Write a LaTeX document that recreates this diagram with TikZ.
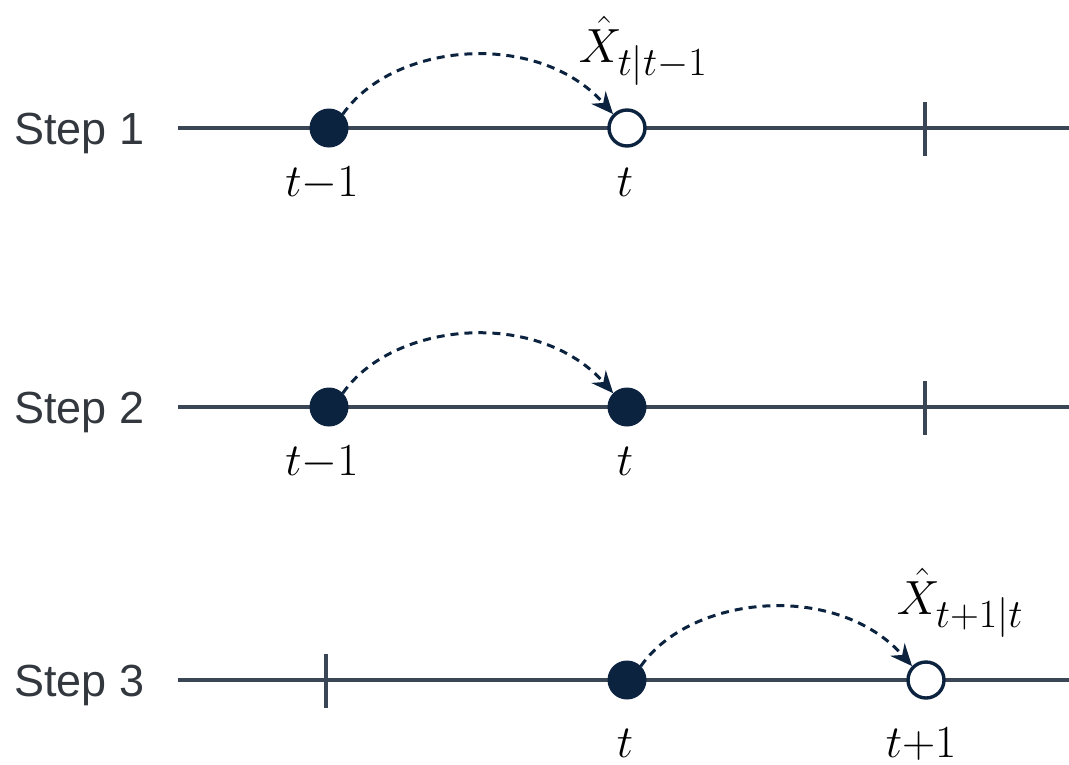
\RequirePackage{fix-cm}
\documentclass[tikz,border=0pt]{standalone}
\usepackage{fontspec}
\newfontfamily\stepfont{Liberation Sans}
\DeclareMathSizes{46}{46}{34}{26}
\DeclareMathSizes{48}{48}{40}{30}
\usetikzlibrary{arrows.meta}
\definecolor{axis}{HTML}{3A4656}
\definecolor{navy}{HTML}{0C2340}
\definecolor{labgray}{HTML}{33383F}
\tikzset{
  axisline/.style={draw=axis, line width=3.2pt},
  tickmark/.style={draw=axis, line width=3.2pt},
  filledpt/.style={circle, fill=navy, draw=navy, line width=1pt, minimum size=38pt, inner sep=0pt},
  openpt/.style={circle, fill=white, draw=navy, line width=3.4pt, minimum size=36pt, inner sep=0pt},
  steplabel/.style={anchor=base west, text=labgray, font=\stepfont\fontsize{45}{48}\selectfont, inner sep=0pt},
  mathlabel/.style={anchor=base, text=black, font=\fontsize{46}{50}\selectfont, inner sep=0pt},
  hatlabel/.style={anchor=base, text=black, font=\fontsize{48}{52}\selectfont, inner sep=0pt},
  dasharrow/.style={draw=navy, line width=3pt, dash pattern=on 8pt off 6pt, -{Stealth[length=22pt,width=19pt]}},
}
\begin{document}
\begin{tikzpicture}[x=1pt,y=-1pt]
\useasboundingbox (0,0) rectangle (1069,764);
% Step 1
\node[steplabel] (s1) at (14,144) {Step 1};
\coordinate (l1a) at (178,128);
\coordinate (l1b) at (1069,128);
\draw[axisline] (l1a) -- (l1b);
\coordinate (k1a) at (925,102);
\coordinate (k1b) at (925,156);
\draw[tickmark] (k1a) -- (k1b);
\node[filledpt] (a1) at (329,128) {};
\node[openpt] (b1) at (627,128) {};
\node[mathlabel] (ta1) at (322,196) {$t{-}1$};
\node[mathlabel] (tb1) at (625,196) {$t$};
\node[hatlabel] (x1) at (643,62) {$\hat{X}_{t|t-1}$};
\draw[dasharrow] (a1.north east) .. controls +(50,-72) and +(-75,-85) .. (b1.north west);
% Step 2
\node[steplabel] (s2) at (14,423) {Step 2};
\coordinate (l2a) at (178,407);
\coordinate (l2b) at (1069,407);
\draw[axisline] (l2a) -- (l2b);
\coordinate (k2a) at (925,381);
\coordinate (k2b) at (925,435);
\draw[tickmark] (k2a) -- (k2b);
\node[filledpt] (a2) at (329,407) {};
\node[filledpt] (b2) at (627,407) {};
\node[mathlabel] (ta2) at (322,475) {$t{-}1$};
\node[mathlabel] (tb2) at (625,475) {$t$};
\draw[dasharrow] (a2.north east) .. controls +(50,-72) and +(-75,-85) .. (b2.north west);
% Step 3
\node[steplabel] (s3) at (14,696) {Step 3};
\coordinate (l3a) at (178,680);
\coordinate (l3b) at (1069,680);
\draw[axisline] (l3a) -- (l3b);
\coordinate (k3a) at (326,654);
\coordinate (k3b) at (326,708);
\draw[tickmark] (k3a) -- (k3b);
\node[filledpt] (a3) at (627,680) {};
\node[openpt] (b3) at (926,680) {};
\node[mathlabel] (ta3) at (625,757) {$t$};
\node[mathlabel] (tb3) at (921,757) {$t{+}1$};
\node[hatlabel] (x3) at (960,614) {$\hat{X}_{t+1|t}$};
\draw[dasharrow] (a3.north east) .. controls +(50,-72) and +(-75,-85) .. (b3.north west);
\end{tikzpicture}
\end{document}
